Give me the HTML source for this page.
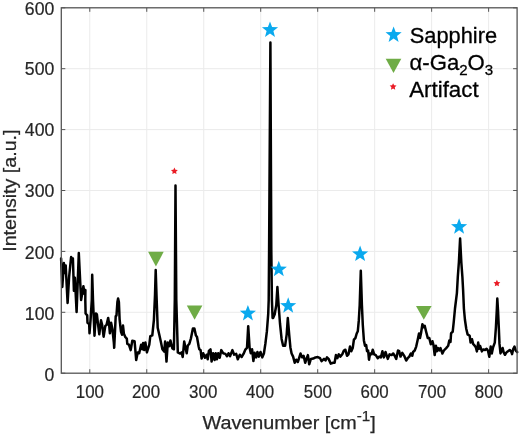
<!DOCTYPE html><html><head><meta charset="utf-8"><title>Raman spectrum</title>
<style>html,body{margin:0;padding:0;background:#fff}svg{display:block}text{font-family:"Liberation Sans",sans-serif;fill:#262626}</style></head><body>
<svg width="520" height="435" viewBox="0 0 520 435">
<rect width="520" height="435" fill="#fff"/>
<path d="M89.79 7.8V373.2 M146.76 7.8V373.2 M203.74 7.8V373.2 M260.71 7.8V373.2 M317.69 7.8V373.2 M374.66 7.8V373.2 M431.64 7.8V373.2 M488.61 7.8V373.2 M61.3 312.30H517.1 M61.3 251.40H517.1 M61.3 190.50H517.1 M61.3 129.60H517.1 M61.3 68.70H517.1" stroke="#ebebeb" stroke-width="1" fill="none"/>
<polyline points="61.1,258.5 62.3,287 63.9,263.1 64.5,273 65.7,265.4 67.6,303 69.1,277 71.1,257 72.2,260 72.9,258.5 73.9,290.8 74.9,277.8 76.6,312 78.8,253.1 81.1,300 83.4,286.2 84.5,294 85.4,290 85.3,300 85.6,313.5 87.2,315.4 87.5,322.7 89.2,324.1 89.5,333.3 90.6,319.3 91.8,300 92.2,274.7 93.0,300 94.5,335.7 95.9,313.5 96.9,314.5 97.9,323.2 99.3,334.3 101.0,320.3 102.2,325.1 103.6,336.7 105.3,326 106.5,325.1 108.2,317.9 109.0,323.2 109.9,333.3 111.1,322.7 112.4,329 113.8,342 114.2,347.8 115.7,316.4 116.5,315.4 117.4,302 118.1,298.5 118.9,302 119.6,319.3 121.0,331.9 122.0,334.7 123.0,325.6 123.9,333.8 125.4,337.2 126.8,338.6 127.3,343.9 128.9,344.7 130.7,350.1 132.3,340.8 134.6,341.3 136.2,360.1 137.7,352.4 139.2,353.2 141.1,344.7 142.3,349.3 143.1,343.1 144.2,350.1 145.4,342.4 146.9,352.4 149.3,344.7 150.3,336.2 152.3,335.4 153.9,320 155.0,295 155.7,270.1 156.5,295 157.7,327.7 159.3,334.7 160.8,341.6 162.4,349.3 164.2,351.6 165.1,341.6 166.5,361.6 167.8,342.4 169.3,346.2 170.4,340.4 172.4,348.5 173.9,349.3 174.8,300 175.5,185.4 176.3,300 177.8,352.4 180.1,353.6 181.6,352.4 182.7,357 184.2,341.6 185.5,347.8 186.7,353.2 187.8,345.5 189.3,343.9 190.9,338.5 192.9,328.5 194.4,328.5 195.9,335.4 197,337 198.6,346.2 199.3,349.3 200.6,350.1 201.6,358.6 203.2,353.2 205,357.8 206.6,354.7 207.7,359.3 208.9,350.8 210.5,349.3 211.6,361.6 213.1,353.2 214.6,360.1 215.7,353.2 216.9,359.3 218.2,353.2 219.7,357.8 221.3,350.1 223.1,353.2 225.4,353.9 227,356.2 228.5,353.2 230,356.2 232.4,350.1 234.2,354.7 236.2,353.9 237.8,359.3 239.8,354.7 241.6,357 243.5,353.9 245.5,349.3 247,347.8 248.2,326.2 249.6,347.8 250.8,353.2 252.1,349.3 253.4,361 254.6,352.8 256.2,357.4 257.4,352 258.9,356.6 260.5,352 262.3,357.4 263.9,353.5 265.4,343.5 266.9,331.2 268.2,314.2 268.7,300 269.1,250 270.4,42.4 271.3,250 271.9,300 272.6,318 273.1,318.1 274.7,314.2 276.3,305 277.4,287 278.6,305 280,323.5 281.6,338.9 283.1,345.8 285.1,345.8 286.7,334.3 287.8,318.1 289.3,335.8 290.4,347.4 291.6,353.5 293.1,356.6 294.7,362.8 296.2,359.7 297.8,362 299.3,357.4 300.5,353.5 302.1,357.4 303.6,355.8 305.2,362.8 306.7,358.2 307.9,355.1 309.2,364.3 310.9,358.9 313.2,358.6 315.5,357.4 317.8,357.1 320.1,358.2 321.6,361.2 324,358.9 325.5,360.5 327,357.4 328.6,358.9 330.8,363.6 333.1,362.8 334.6,362.8 335.9,355.1 337.3,358.2 338.8,354.3 340.3,356.6 342.3,354.3 343.9,350.5 345.4,349.7 347,355.8 348.5,354.3 350,346.6 351.3,351.2 352.7,348.1 353.9,339.7 355.4,338.1 356.7,333.5 357.8,331.2 358.8,320.4 359.7,305 360.8,270.8 361.9,305 362.8,325 363.9,340.4 365,345.8 366.2,345.1 367,351.2 368.1,350.5 369,359.7 370.1,353.5 371.6,354.3 372.7,349.7 374.2,354.3 375.8,355.1 377.8,358.2 379.3,356.6 380.9,357.4 382.4,351.2 383.9,357.4 385.5,352 387.8,358.9 389.6,354.3 391.6,355.1 393.2,353.5 394.7,355.8 396.2,358.9 398,350.5 399.2,351.2 400.5,356.6 402.3,352.8 404.2,355.8 406.2,360.5 407.7,358.2 409.3,356.6 410.8,353.5 412.3,355.8 413.1,352 414.7,350.5 416.2,346.6 417.7,339.7 419,333.5 420,338.1 421.1,332.7 422.4,324.3 423.6,327.3 424.7,325.8 426.2,332 427.8,338.1 429.3,338.1 430.8,344.3 432.4,341.2 433.5,345.1 434.7,355.1 435.9,345.8 437,351.2 438.1,348.1 439.3,350.5 440.5,348.1 442.4,353.5 443.9,350.5 446.2,348.1 448.2,345.8 449.3,340.4 450.5,342 451.1,333.1 452.7,331.7 453.7,322.4 455.0,308.5 456.9,293.1 457.8,277 458.9,262 460.1,238.5 461.3,262 462.4,277 463.1,290 463.9,308.5 464.9,319.5 466.3,329 467.6,334.4 469.7,335.8 470.6,342.6 472,339.2 473.1,343.9 474.4,345.3 475.8,347.3 476.9,351.4 478.2,342.6 479.2,348.7 480.1,346 481.9,351.4 483.2,349.4 485,350 486.6,348.7 488,350.7 489.3,356.8 490.7,346.6 491.8,353.4 493.1,347.3 494.8,342.6 495.9,327.6 496.8,310 497.3,298.5 498.0,310 498.8,327.6 499.5,343.9 500.5,353.4 501.6,350.7 502.6,348 503.6,352.1 505,354.8 506.3,352.7 507.7,351.4 509.7,350 511.1,351.4 512.1,354.1 513.1,349.4 514.5,346.6 515.8,350.7 517.2,352.1" fill="none" stroke="#000" stroke-width="2.5" stroke-linejoin="round" stroke-linecap="round"/>
<path d="M89.79 373.2v-4M89.79 7.8v4 M146.76 373.2v-4M146.76 7.8v4 M203.74 373.2v-4M203.74 7.8v4 M260.71 373.2v-4M260.71 7.8v4 M317.69 373.2v-4M317.69 7.8v4 M374.66 373.2v-4M374.66 7.8v4 M431.64 373.2v-4M431.64 7.8v4 M488.61 373.2v-4M488.61 7.8v4 M61.3 373.20h4M517.1 373.20h-4 M61.3 312.30h4M517.1 312.30h-4 M61.3 251.40h4M517.1 251.40h-4 M61.3 190.50h4M517.1 190.50h-4 M61.3 129.60h4M517.1 129.60h-4 M61.3 68.70h4M517.1 68.70h-4 M61.3 7.80h4M517.1 7.80h-4" stroke="#555" stroke-width="1" fill="none"/>
<rect x="61.3" y="7.8" width="455.8" height="365.4" fill="none" stroke="#555" stroke-width="1.3"/>
<text x="89.90" y="398.4" font-size="17.8" text-anchor="middle" textLength="28.2" style="stroke:#262626;stroke-width:0.2" lengthAdjust="spacingAndGlyphs">100</text>
<text x="146.00" y="398.4" font-size="17.8" text-anchor="middle" textLength="28.2" style="stroke:#262626;stroke-width:0.2" lengthAdjust="spacingAndGlyphs">200</text>
<text x="203.20" y="398.4" font-size="17.8" text-anchor="middle" textLength="28.2" style="stroke:#262626;stroke-width:0.2" lengthAdjust="spacingAndGlyphs">300</text>
<text x="260.10" y="398.4" font-size="17.8" text-anchor="middle" textLength="28.2" style="stroke:#262626;stroke-width:0.2" lengthAdjust="spacingAndGlyphs">400</text>
<text x="317.90" y="398.4" font-size="17.8" text-anchor="middle" textLength="28.2" style="stroke:#262626;stroke-width:0.2" lengthAdjust="spacingAndGlyphs">500</text>
<text x="374.60" y="398.4" font-size="17.8" text-anchor="middle" textLength="28.2" style="stroke:#262626;stroke-width:0.2" lengthAdjust="spacingAndGlyphs">600</text>
<text x="432.00" y="398.4" font-size="17.8" text-anchor="middle" textLength="28.2" style="stroke:#262626;stroke-width:0.2" lengthAdjust="spacingAndGlyphs">700</text>
<text x="488.90" y="398.4" font-size="17.8" text-anchor="middle" textLength="28.2" style="stroke:#262626;stroke-width:0.2" lengthAdjust="spacingAndGlyphs">800</text>
<text x="54.3" y="380.70" font-size="17.8" text-anchor="end" style="stroke:#262626;stroke-width:0.2" textLength="9.8" lengthAdjust="spacingAndGlyphs">0</text>
<text x="54.3" y="319.70" font-size="17.8" text-anchor="end" style="stroke:#262626;stroke-width:0.2" textLength="29.5" lengthAdjust="spacingAndGlyphs">100</text>
<text x="54.3" y="258.90" font-size="17.8" text-anchor="end" style="stroke:#262626;stroke-width:0.2" textLength="29.5" lengthAdjust="spacingAndGlyphs">200</text>
<text x="54.3" y="197.20" font-size="17.8" text-anchor="end" style="stroke:#262626;stroke-width:0.2" textLength="29.5" lengthAdjust="spacingAndGlyphs">300</text>
<text x="54.3" y="136.20" font-size="17.8" text-anchor="end" style="stroke:#262626;stroke-width:0.2" textLength="29.5" lengthAdjust="spacingAndGlyphs">400</text>
<text x="54.3" y="74.90" font-size="17.8" text-anchor="end" style="stroke:#262626;stroke-width:0.2" textLength="29.5" lengthAdjust="spacingAndGlyphs">500</text>
<text x="54.3" y="14.50" font-size="17.8" text-anchor="end" style="stroke:#262626;stroke-width:0.2" textLength="29.5" lengthAdjust="spacingAndGlyphs">600</text>
<text x="202.5" y="428.8" font-size="18.9" textLength="173.2" style="stroke:#262626;stroke-width:0.25" lengthAdjust="spacingAndGlyphs">Wavenumber [cm<tspan font-size="14.5" dy="-8.3">-1</tspan><tspan dy="8.3">]</tspan></text>
<text transform="translate(16.2 251.8) rotate(-90)" font-size="18.9" textLength="122.3" style="stroke:#262626;stroke-width:0.25" lengthAdjust="spacingAndGlyphs">Intensity [a.u.]</text>
<polygon points="270.00,21.50 272.10,27.11 278.08,27.37 273.40,31.10 275.00,36.88 270.00,33.57 265.00,36.88 266.60,31.10 261.92,27.37 267.90,27.11" fill="#0aa9ee"/>
<polygon points="278.80,260.80 280.90,266.41 286.88,266.67 282.20,270.40 283.80,276.18 278.80,272.87 273.80,276.18 275.40,270.40 270.72,266.67 276.70,266.41" fill="#0aa9ee"/>
<polygon points="288.20,297.30 290.30,302.91 296.28,303.17 291.60,306.90 293.20,312.68 288.20,309.37 283.20,312.68 284.80,306.90 280.12,303.17 286.10,302.91" fill="#0aa9ee"/>
<polygon points="247.90,305.00 250.00,310.61 255.98,310.87 251.30,314.60 252.90,320.38 247.90,317.07 242.90,320.38 244.50,314.60 239.82,310.87 245.80,310.61" fill="#0aa9ee"/>
<polygon points="360.10,245.60 362.20,251.21 368.18,251.47 363.50,255.20 365.10,260.98 360.10,257.67 355.10,260.98 356.70,255.20 352.02,251.47 358.00,251.21" fill="#0aa9ee"/>
<polygon points="459.10,218.30 461.20,223.91 467.18,224.17 462.50,227.90 464.10,233.68 459.10,230.37 454.10,233.68 455.70,227.90 451.02,224.17 457.00,223.91" fill="#0aa9ee"/>
<polygon points="393.60,26.50 395.70,32.11 401.68,32.37 397.00,36.10 398.60,41.88 393.60,38.57 388.60,41.88 390.20,36.10 385.52,32.37 391.50,32.11" fill="#0aa9ee"/>
<polygon points="148.10,251.8 163.70,251.8 155.9,266.6" fill="#6fac46"/>
<polygon points="186.80,305.4 202.40,305.4 194.6,319.7" fill="#6fac46"/>
<polygon points="416.00,306.0 431.60,306.0 423.8,319.8" fill="#6fac46"/>
<polygon points="385.70,58.8 401.30,58.8 393.5,72.9" fill="#6fac46"/>
<polygon points="174.40,167.53 175.43,169.71 177.82,170.02 176.06,171.67 176.52,174.04 174.40,172.88 172.28,174.04 172.74,171.67 170.98,170.02 173.37,169.71" fill="#ea1c26"/>
<polygon points="496.90,279.83 497.93,282.01 500.32,282.32 498.56,283.97 499.02,286.34 496.90,285.18 494.78,286.34 495.24,283.97 493.48,282.32 495.87,282.01" fill="#ea1c26"/>
<polygon points="393.10,83.13 394.13,85.31 396.52,85.62 394.76,87.27 395.22,89.64 393.10,88.48 390.98,89.64 391.44,87.27 389.68,85.62 392.07,85.31" fill="#ea1c26"/>
<g style="fill:#000;stroke:#000;stroke-width:0.3">
<text x="409.8" y="43" font-size="22" textLength="87.3" lengthAdjust="spacingAndGlyphs" style="fill:#000">Sapphire</text>
<text x="409.6" y="69.8" font-size="22" style="fill:#000" textLength="83.6" lengthAdjust="spacingAndGlyphs">α-Ga<tspan font-size="15" dy="4.8">2</tspan><tspan dy="-4.8">O</tspan><tspan font-size="15" dy="4.8">3</tspan></text>
<text x="409.2" y="96.6" font-size="22" style="fill:#000" textLength="69.4" lengthAdjust="spacingAndGlyphs">Artifact</text>
</g>
</svg></body></html>
